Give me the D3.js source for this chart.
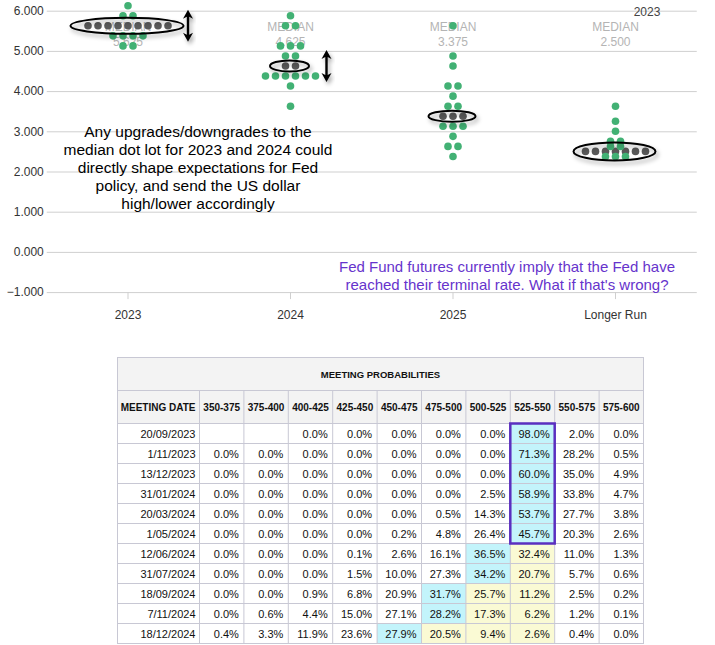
<!DOCTYPE html>
<html><head><meta charset="utf-8">
<script src="https://cdn.jsdelivr.net/npm/d3@7"></script>
<style>
body{margin:0;background:#fff;}
svg{display:block;font-family:"Liberation Sans",Arial,sans-serif;}
</style></head><body>
<svg id="c" width="715" height="645"></svg>
<script>
// ---------- DATA ----------
const categories = ["2023", "2024", "2025", "Longer Run"];
const medians = [5.625, 4.625, 3.375, 2.5];
// [rate, number of participants]
const dots2023 = [[6.125,1],[5.875,2],[5.625,9],[5.375,4],[5.125,2]];
const dots2024 = [[5.875,1],[5.625,2],[5.125,3],[4.875,2],[4.625,2],[4.375,6],[4.125,1],[3.625,1]];
const dots2025 = [[5.625,1],[4.875,1],[4.625,1],[4.125,2],[3.875,1],[3.625,2],[3.375,3],[3.125,3],[2.875,1],[2.625,2],[2.375,1]];
const dotsLongerRun = [[3.625,1],[3.25,1],[3.0,1],[2.75,2],[2.625,2],[2.5,7],[2.375,3]];
const yTicks = [6, 5, 4, 3, 2, 1, 0, -1];
const chartTitle = "2023";
const note1 = ["Any upgrades/downgrades to the", "median dot lot for 2023 and 2024 could", "directly shape expectations for Fed", "policy, and send the US dollar", "high/lower accordingly"];
const note2 = ["Fed Fund futures currently imply that the Fed have", "reached their terminal rate. What if that's wrong?"];

const tableTitle = "MEETING PROBABILITIES";
const firstColHeader = "MEETING DATE";
const rateBuckets = ["350-375","375-400","400-425","425-450","450-475","475-500","500-525","525-550","550-575","575-600"];
const currentBucket = "525-550";
const meetingDates = ["20/09/2023","1/11/2023","13/12/2023","31/01/2024","20/03/2024","1/05/2024","12/06/2024","31/07/2024","18/09/2024","7/11/2024","18/12/2024"];
const probabilities = [
  [null,null,0.0,0.0,0.0,0.0,0.0,98.0,2.0,0.0],
  [0.0,0.0,0.0,0.0,0.0,0.0,0.0,71.3,28.2,0.5],
  [0.0,0.0,0.0,0.0,0.0,0.0,0.0,60.0,35.0,4.9],
  [0.0,0.0,0.0,0.0,0.0,0.0,2.5,58.9,33.8,4.7],
  [0.0,0.0,0.0,0.0,0.0,0.5,14.3,53.7,27.7,3.8],
  [0.0,0.0,0.0,0.0,0.2,4.8,26.4,45.7,20.3,2.6],
  [0.0,0.0,0.0,0.1,2.6,16.1,36.5,32.4,11.0,1.3],
  [0.0,0.0,0.0,1.5,10.0,27.3,34.2,20.7,5.7,0.6],
  [0.0,0.0,0.9,6.8,20.9,31.7,25.7,11.2,2.5,0.2],
  [0.0,0.6,4.4,15.0,27.1,28.2,17.3,6.2,1.2,0.1],
  [0.4,3.3,11.9,23.6,27.9,20.5,9.4,2.6,0.4,0.0]
];

// ---------- CHART ----------
const svg = d3.select("#c");
const defs = svg.append("defs");
const f = defs.append("filter").attr("id","sh").attr("x","-30%").attr("y","-60%").attr("width","160%").attr("height","220%");
f.append("feDropShadow").attr("dx",2).attr("dy",3).attr("stdDeviation",2).attr("flood-color","#000").attr("flood-opacity",0.35);

const x = d3.scaleBand().domain(categories).range([46.75, 696.75]);
const y = d3.scaleLinear().domain([-1, 6]).range([292.1, 10.7]);
const cx = c => x(c) + x.bandwidth() / 2;

// grid + y labels
const yAxis = svg.append("g").attr("transform", "translate(46.75,0)")
  .call(d3.axisLeft(y).tickValues(yTicks).tickFormat(d3.format(".3f")).tickSize(-650).tickPadding(3));
yAxis.select(".domain").remove();
yAxis.selectAll("line").attr("stroke", "#cfcfcf");
yAxis.selectAll("text").attr("fill", "#333").style("font-size", "12px").style("font-family", "Liberation Sans, Arial, sans-serif");

// x axis
const xAxis = svg.append("g").attr("transform", `translate(0,${y(-1)})`)
  .call(d3.axisBottom(x).tickSize(7).tickPadding(11));
xAxis.select(".domain").remove();
xAxis.selectAll("line").attr("stroke", "#cfcfcf");
xAxis.selectAll("text").attr("fill", "#333").style("font-size", "12px").style("font-family", "Liberation Sans, Arial, sans-serif");

// title
svg.append("text").attr("x", 647).attr("y", 16).attr("text-anchor", "middle")
  .attr("fill", "#444").style("font-size", "12px").text(chartTitle);

// median labels
categories.forEach((c, i) => {
  svg.append("text").attr("x", cx(c)).attr("y", 31).attr("text-anchor","middle")
    .attr("fill","#b4b4b4").style("font-size","12px").text("MEDIAN");
  svg.append("text").attr("x", cx(c)).attr("y", 45.5).attr("text-anchor","middle")
    .attr("fill","#b4b4b4").style("font-size","12px").text(d3.format(".3f")(medians[i]));
});

// dots
const allDots = [dots2023, dots2024, dots2025, dotsLongerRun];
const pts = [];
allDots.forEach((arr, ci) => {
  arr.forEach(([v, n]) => {
    for (let k = 0; k < n; k++) pts.push({cat: categories[ci], v, k, n, med: v === medians[ci]});
  });
});
const spacing = 10;
const dotG = svg.append("g");
dotG.selectAll("circle.m").data(pts.filter(p => p.med)).join("circle").attr("class","m")
  .attr("cx", p => cx(p.cat) + (p.k - (p.n - 1) / 2) * spacing).attr("cy", p => y(p.v))
  .attr("r", 3.8).attr("fill", "#595959");
dotG.selectAll("circle.g").data(pts.filter(p => !p.med)).join("circle").attr("class","g")
  .attr("cx", p => cx(p.cat) + (p.k - (p.n - 1) / 2) * spacing).attr("cy", p => y(p.v))
  .attr("r", 3.8).attr("fill", "#42b174");

// ellipses around medians
const ellipseSize = [[56.5, 8], [19.5, 5.5], [23.5, 5.5], [41, 9]];
categories.forEach((c, i) => {
  svg.append("ellipse").attr("cx", cx(c) - 1).attr("cy", y(medians[i]))
    .attr("rx", ellipseSize[i][0]).attr("ry", ellipseSize[i][1])
    .attr("fill", "none").attr("stroke", "#000").attr("stroke-width", 2).attr("filter", "url(#sh)");
});

// double arrows
function dArrow(ax, yc, half) {
  const t = yc - half, b = yc + half, hl = 9, hw = 5, sw = 1.2;
  const p = `M${ax},${t} L${ax+hw},${t+hl} L${ax+sw},${t+hl-2} L${ax+sw},${b-hl+2} L${ax+hw},${b-hl} L${ax},${b} L${ax-hw},${b-hl} L${ax-sw},${b-hl+2} L${ax-sw},${t+hl-2} L${ax-hw},${t+hl} Z`;
  svg.append("path").attr("d", p).attr("fill", "#000").attr("filter", "url(#sh)");
}
dArrow(cx("2023") + 60, y(medians[0]), 16);
dArrow(cx("2024") + 36, y(medians[1]), 16);

// notes
const n1 = svg.append("text").attr("text-anchor","middle").attr("fill","#000").style("font-size","15.5px");
note1.forEach((l, i) => n1.append("tspan").attr("x", 198).attr("y", 137 + i * 18.1).text(l));
const n2 = svg.append("text").attr("text-anchor","middle").attr("fill","#6633cc").style("font-size","15px");
note2.forEach((l, i) => n2.append("tspan").attr("x", 507).attr("y", 272 + i * 18.3).text(l));

// ---------- TABLE ----------
const tL = 117.5, tR = 643.5, tTop = 357.5, h1 = 390.5, h2 = 423.5, tBot = 643.5, dateR = 199.5;
const cxs = d3.scaleBand().domain(rateBuckets).range([dateR, tR]);
const rys = d3.scaleBand().domain(meetingDates).range([h2, tBot]);
const border = "#c8c8d4";
const T = svg.append("g");
T.append("rect").attr("x", tL).attr("y", tTop).attr("width", tR - tL).attr("height", h2 - tTop).attr("fill", "#f3f3f3");
// cell fills
const curIdx = rateBuckets.indexOf(currentBucket);
const cells = [];
probabilities.forEach((row, ri) => {
  const vals = row.map(v => v == null ? -1 : v);
  const mi = vals.indexOf(d3.max(vals));
  row.forEach((v, bi) => {
    let fill = "#fff";
    if (bi === mi) fill = "#c3f4fb";
    else if ((bi > mi && bi <= curIdx) || (bi < mi && bi >= curIdx)) fill = "#fafad4";
    cells.push({date: meetingDates[ri], bucket: rateBuckets[bi], v, fill, mi});
  });
});
T.selectAll("rect.cell").data(cells).join("rect").attr("class","cell")
  .attr("x", d => cxs(d.bucket)).attr("y", d => rys(d.date))
  .attr("width", cxs.bandwidth()).attr("height", rys.bandwidth()).attr("fill", d => d.fill);
// grid lines
const gl = T.append("g").attr("stroke", border).attr("stroke-width", 1);
gl.append("rect").attr("x", tL).attr("y", tTop).attr("width", tR - tL).attr("height", tBot - tTop).attr("fill", "none");
[h1, h2].concat(meetingDates.slice(1).map(d => rys(d))).forEach(yy =>
  gl.append("line").attr("x1", tL).attr("x2", tR).attr("y1", yy).attr("y2", yy));
[dateR].concat(rateBuckets.slice(1).map(b => cxs(b))).forEach(xx =>
  gl.append("line").attr("x1", xx).attr("x2", xx).attr("y1", h1).attr("y2", tBot));
// header texts
T.append("text").attr("x", (tL + tR) / 2).attr("y", (tTop + h1) / 2 + 3.5).attr("text-anchor","middle")
  .style("font-size","9.5px").style("font-weight","bold").attr("fill","#111").text(tableTitle);
T.append("text").attr("x", dateR - 4).attr("y", (h1 + h2) / 2 + 3.5).attr("text-anchor","end")
  .style("font-size","10px").style("font-weight","bold").attr("fill","#111").text(firstColHeader);
T.selectAll("text.bh").data(rateBuckets).join("text").attr("class","bh")
  .attr("x", b => cxs(b) + cxs.bandwidth() / 2).attr("y", (h1 + h2) / 2 + 3.5).attr("text-anchor","middle")
  .style("font-size","10px").style("font-weight","bold").attr("fill","#111").text(b => b);
// row texts
T.selectAll("text.dt").data(meetingDates).join("text").attr("class","dt")
  .attr("x", dateR - 4).attr("y", d => rys(d) + rys.bandwidth() / 2 + 4).attr("text-anchor","end")
  .style("font-size","11px").attr("fill","#111").text(d => d);
T.selectAll("text.pv").data(cells.filter(c => c.v != null)).join("text").attr("class","pv")
  .attr("x", d => cxs(d.bucket) + cxs.bandwidth() - 5).attr("y", d => rys(d.date) + rys.bandwidth() / 2 + 4)
  .attr("text-anchor","end").style("font-size","11px").attr("fill","#111").text(d => d.v.toFixed(1) + "%");
// purple box around rows whose peak is at the current rate
const boxRows = meetingDates.filter((d, i) => cells.find(c => c.date === d).mi === curIdx);
T.append("rect").attr("x", cxs(currentBucket)).attr("y", rys(boxRows[0]))
  .attr("width", cxs.bandwidth()).attr("height", rys.bandwidth() * boxRows.length)
  .attr("fill", "none").attr("stroke", "#5a2fc0").attr("stroke-width", 2.5);
</script>
</body></html>
